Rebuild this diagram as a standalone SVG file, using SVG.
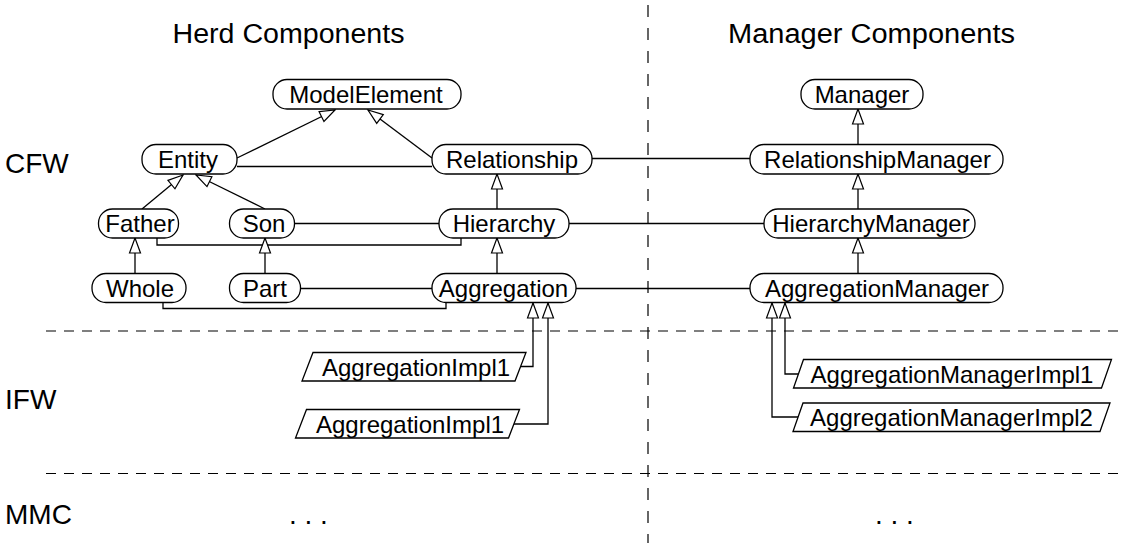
<svg xmlns="http://www.w3.org/2000/svg" width="1123" height="543" viewBox="0 0 1123 543">
<style>
  text { font-family: "Liberation Sans", Arial, sans-serif; fill: #000; }
  .node { fill: #fff; stroke: #000; stroke-width: 1.3; }
  .lbl { font-size: 24px; text-anchor: middle; }
  .big { font-size: 28px; }
  .title { font-size: 27px; text-anchor: middle; }
  .conn { fill: none; stroke: #000; stroke-width: 1.3; }
  .inh { marker-end: url(#tri); }
  .hdash { stroke: #000; stroke-width: 1.2; stroke-dasharray: 10 8; fill: none; }
  .vdash { stroke: #000; stroke-width: 1.2; stroke-dasharray: 12 11; fill: none; }
</style>
<defs>
  <marker id="tri" markerUnits="userSpaceOnUse" markerWidth="18" markerHeight="14" viewBox="0 0 18 14" refX="16.5" refY="7" orient="auto">
    <path d="M1.5,1.5 L16.5,7 L1.5,12.5 Z" fill="#fff" stroke="#000" stroke-width="1.2"/>
  </marker>
</defs>
<rect width="1123" height="543" fill="#fff"/>

<g id="separators">
  <path class="vdash" d="M648,5 V543"/>
  <path class="hdash" d="M46,331 H1123"/>
  <path class="hdash" d="M46,473.5 H1123"/>
</g>

<g id="labels">
  <text class="title" x="288.5" y="43" textLength="232" lengthAdjust="spacingAndGlyphs">Herd Components</text>
  <text class="title" x="871.5" y="43" textLength="287" lengthAdjust="spacingAndGlyphs">Manager Components</text>
  <text class="big" x="5" y="173">CFW</text>
  <text class="big" x="5" y="409">IFW</text>
  <text class="big" x="5" y="524">MMC</text>
  <text class="big" x="289" y="524">. . .</text>
  <text class="big" x="875" y="524">. . .</text>
</g>

<g id="connectors">
  <path class="conn inh" d="M237,158 L335,110"/>
  <path class="conn inh" d="M432,158 L368,110"/>
  <path class="conn" d="M237,166.5 H432"/>
  <path class="conn inh" d="M142,209 L183,175"/>
  <path class="conn inh" d="M265,209 L196,175"/>
  <path class="conn" d="M294,223.5 H439"/>
  <path class="conn" d="M157,238 V245 H461 V238"/>
  <path class="conn inh" d="M497,209 V174"/>
  <path class="conn inh" d="M135,273 V238"/>
  <path class="conn inh" d="M265,273 V238"/>
  <path class="conn inh" d="M497,273 V238"/>
  <path class="conn" d="M301,288.5 H432"/>
  <path class="conn" d="M163,303 V308.5 H446 V303"/>
  <path class="conn" d="M592,158.5 H750"/>
  <path class="conn" d="M569,223.5 H764"/>
  <path class="conn" d="M576,288.5 H750"/>
  <path class="conn inh" d="M858,144 V109"/>
  <path class="conn inh" d="M858,209 V174"/>
  <path class="conn inh" d="M858,273 V238"/>
  <path class="conn inh" d="M520,366.5 H533 V303"/>
  <path class="conn inh" d="M513.5,424 H548 V303"/>
  <path class="conn inh" d="M798,374 H785 V303"/>
  <path class="conn inh" d="M798,417 H772 V303"/>
</g>

<g id="ModelElement"><rect class="node" x="273" y="79.5" width="188" height="29.5" rx="14" ry="14"/><text class="lbl" x="366" y="102.5">ModelElement</text></g>
<g id="Entity"><rect class="node" x="142" y="144.5" width="95" height="29.5" rx="14" ry="14"/><text class="lbl" x="188" y="167.5">Entity</text></g>
<g id="Relationship"><rect class="node" x="432" y="144.5" width="160" height="29.5" rx="14" ry="14"/><text class="lbl" x="512" y="167.5">Relationship</text></g>
<g id="Father"><rect class="node" x="98.5" y="209" width="80" height="29" rx="14" ry="14"/><text class="lbl" x="140" y="232">Father</text></g>
<g id="Son"><rect class="node" x="229.5" y="209" width="65" height="29" rx="14" ry="14"/><text class="lbl" x="264" y="232">Son</text></g>
<g id="Hierarchy"><rect class="node" x="439" y="209" width="130" height="29" rx="14" ry="14"/><text class="lbl" x="504" y="232">Hierarchy</text></g>
<g id="Whole"><rect class="node" x="92" y="273.5" width="94" height="29" rx="14" ry="14"/><text class="lbl" x="140" y="296.5">Whole</text></g>
<g id="Part"><rect class="node" x="229.5" y="273.5" width="71" height="29" rx="14" ry="14"/><text class="lbl" x="265" y="296.5">Part</text></g>
<g id="Aggregation"><rect class="node" x="432" y="273.5" width="144" height="29" rx="14" ry="14"/><text class="lbl" x="503.5" y="296.5">Aggregation</text></g>
<g id="Manager"><rect class="node" x="801" y="79.5" width="122" height="29.5" rx="14" ry="14"/><text class="lbl" x="862" y="102.5">Manager</text></g>
<g id="RelationshipManager"><rect class="node" x="750" y="144.5" width="253" height="29.5" rx="14" ry="14"/><text class="lbl" x="877.5" y="167.5">RelationshipManager</text></g>
<g id="HierarchyManager"><rect class="node" x="764" y="209" width="211" height="29" rx="14" ry="14"/><text class="lbl" x="871" y="232">HierarchyManager</text></g>
<g id="AggregationManager"><rect class="node" x="750" y="273.5" width="253" height="29" rx="14" ry="14"/><text class="lbl" x="877" y="296.5">AggregationManager</text></g>
<g id="AggregationImpl1a"><path class="node" d="M313,352.5 H526 L515,381 H302 Z"/><text class="lbl" x="416" y="375.5">AggregationImpl1</text></g>
<g id="AggregationImpl1b"><path class="node" d="M306.5,409.5 H519.5 L508.5,438 H295.5 Z"/><text class="lbl" x="410" y="432.5">AggregationImpl1</text></g>
<g id="AggregationManagerImpl1"><path class="node" d="M803.5,359.5 H1111.5 L1101.5,388 H793.5 Z"/><text class="lbl" x="952" y="382.5">AggregationManagerImpl1</text></g>
<g id="AggregationManagerImpl2"><path class="node" d="M803,403 H1110 L1100,431.5 H793 Z"/><text class="lbl" x="951.5" y="426">AggregationManagerImpl2</text></g>
</svg>
